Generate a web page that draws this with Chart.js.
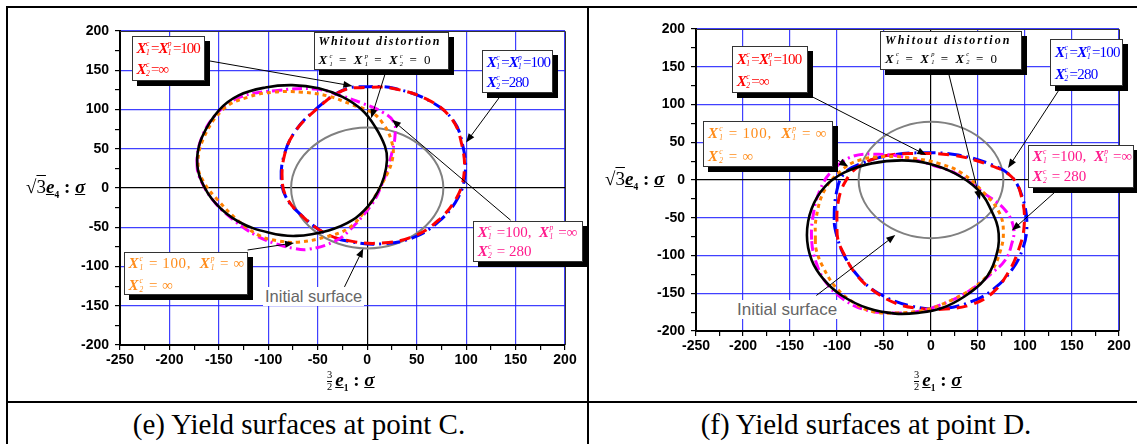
<!DOCTYPE html>
<html>
<head>
<meta charset="utf-8">
<script src="https://cdn.jsdelivr.net/npm/chart.js@4.4.1/dist/chart.umd.min.js"></script>
<style>
  html, body { margin: 0; padding: 0; background: #fff; }
  #page { position: relative; width: 1137px; height: 444px; overflow: hidden; background: #fff; }
  canvas { position: absolute; top: 0; }
  .rule { position: absolute; background: #000; }
  .box { position: absolute; background: #fff; border: 1px solid #333; box-shadow: 5px 5px 0 #000;
         font-family: "Liberation Serif", serif; box-sizing: border-box; }
  .ln { position: absolute; left: 4px; white-space: nowrap; line-height: 1; }
  .X { font-style: italic; font-weight: bold; }
  .ss { display: inline-block; position: relative; width: 0.36em; height: 0.8em; }
  .ss span { position: absolute; left: 0.05em; font-size: 0.5em; font-style: italic; line-height: 1; }
  .ss .sp { top: -0.15em; }
  .ss .sb { top: 1.05em; }
  .lbl { position: absolute; background: #fff; color: #666; font-family: "Liberation Sans", Arial, sans-serif;
         white-space: nowrap; line-height: 1; padding: 1px 2px; }
  .ttl { position: absolute; font-family: "Liberation Serif", serif; white-space: nowrap; line-height: 1; color: #000; }
  .ttl sub { font-size: 0.5em; }
  .frac { display: inline-block; vertical-align: middle; text-align: center; font-size: 0.55em; line-height: 1.05; margin-right: 3px; }
  .frac span { display: block; }
  .frac span:first-child { border-bottom: 1px solid #000; }
  .cap { position: absolute; font-family: "Liberation Serif", serif; font-size: 29px; line-height: 29px;
         white-space: nowrap; transform: translateX(-50%); color: #000; }
</style>
</head>
<body>
<div id="page">
  <canvas id="chartE" width="588" height="400" style="left:0px"></canvas>
  <canvas id="chartF" width="549" height="400" style="left:588px"></canvas>
</div>
<script>
// axis ticks (both panels)
const xTickValues = [-250, -200, -150, -100, -50, 0, 50, 100, 150, 200];
const yTickValues = [-200, -150, -100, -50, 0, 50, 100, 150, 200];

// (e) point C: closed curves, [x, y]
const eInitial = [[77,0],[71,29],[54,54],[29,71],[0,77],[-29,71],[-54,54],[-71,29],[-77,0],[-71,-29],[-54,-54],[-29,-71],[0,-77],[29,-71],[54,-54],[71,-29]];
const eNoDist = [[-172,36],[-167,65],[-150,99],[-130,118],[-103,128],[-76,131],[-49,127],[-25,116],[-5,99],[8,78],[18,53],[20,36],[17,14],[11,-4],[1,-23],[-15,-41],[-39,-54],[-72,-61],[-99,-57],[-130,-43],[-153,-20],[-168,10]];
const eRed = [[-86,10],[-84,40],[-75,68],[-56,95],[-25,124],[0,128],[25,127],[62,112],[86,87],[96,53],[98,19],[91,-11],[72,-41],[46,-62],[15,-70],[-15,-68],[-42,-58],[-69,-32],[-82,-11]];
const eBlue = [[-87,12],[-84,42],[-74,70],[-55,97],[-24,125],[2,129],[27,127],[63,111],[87,86],[97,52],[99,18],[92,-12],[73,-42],[47,-63],[16,-71],[-14,-69],[-41,-59],[-68,-33],[-82,-12]];
const eOrange = [[-171,27],[-166,62],[-145,101],[-120,116],[-95,122],[-66,122],[-39,117],[-15,106],[5,96],[16,82],[24,62],[26,40],[17,10],[-4,-32],[-20,-52],[-41,-62],[-70,-69],[-92,-67],[-110,-60],[-132,-40],[-152,-14],[-164,5]];
const eMagenta = [[-172,27],[-168,62],[-152,95],[-128,116],[-93,124],[-52,126],[-25,117],[-5,108],[15,97],[27,84],[28,65],[25,45],[20,22],[14,2],[5,-20],[-18,-54],[-33,-68],[-59,-78],[-74,-77],[-95,-70],[-113,-60],[-133,-43],[-153,-20],[-166,4]];

// (f) point D
const fInitial = [[77,0],[71,29],[54,54],[29,71],[0,77],[-29,71],[-54,54],[-71,29],[-77,0],[-71,-29],[-54,-54],[-29,-71],[0,-77],[29,-71],[54,-54],[71,-29]];
const fNoDist = [[-132,-73],[-127,-38],[-113,-9],[-92,10],[-63,22],[-31,26],[-3,22],[25,9],[50,-13],[64,-40],[72,-71],[68,-106],[57,-132],[36,-154],[11,-170],[-14,-176],[-38,-177],[-67,-170],[-95,-153],[-114,-132],[-127,-106]];
const fRed = [[-99,-79],[-100,-62],[-99,-31],[-92,-4],[-77,18],[-49,32],[-14,35],[22,33],[57,22],[86,4],[97,-26],[99,-62],[93,-93],[82,-123],[65,-150],[43,-165],[15,-171],[-14,-170],[-38,-163],[-63,-145],[-81,-123],[-93,-97]];
const fBlue = [[-103,-53],[-100,-13],[-92,9],[-74,22],[-42,33],[-6,36],[29,33],[65,20],[86,4],[98,-26],[102,-62],[97,-93],[86,-119],[68,-143],[47,-159],[15,-170],[-21,-167],[-56,-150],[-77,-128],[-92,-101],[-100,-75]];
const fOrange = [[-123,-79],[-122,-49],[-113,-13],[-95,13],[-77,26],[-49,31],[-21,29],[8,22],[33,9],[57,-18],[73,-44],[77,-71],[73,-97],[65,-119],[47,-141],[22,-159],[-6,-172],[-35,-176],[-63,-174],[-84,-161],[-102,-141],[-115,-115],[-122,-93]];
const fMagenta = [[-127,-79],[-125,-44],[-118,-13],[-106,11],[-84,31],[-56,34],[-28,30],[1,20],[29,7],[57,-18],[79,-40],[88,-64],[86,-84],[79,-106],[65,-123],[43,-145],[15,-163],[-14,-174],[-42,-176],[-70,-172],[-92,-159],[-111,-137],[-122,-110]];

// arrows [tail, head] in data units
const eArrows = [[[-160,162],[-15,130]], [[18,145],[4,89]], [[134,116],[100,58]], [[145,-41],[25,87]], [[-121,-79],[-74,-70]], [[-23,-126],[-4,-77]]];
const fArrows = [[[-126,110],[-5,33]], [[-99,26],[-88,18]], [[19,140],[52,-26]], [[136,119],[82,16]], [[131,-17],[86,-67]], [[-122,-153],[-38,-73]]];

const styleOf = {
  noDist:  { color: "#000000", width: 2.6, dash: [] },
  orange:  { color: "#ff8000", width: 3, dash: [4, 4] },
  magenta: { color: "#ff00ff", width: 3, dash: [10, 4, 2, 4] },
  red:     { color: "#ff0000", width: 3, dash: [11, 7] },
  blue:    { color: "#0000ff", width: 3, dash: [14, 5, 2, 5] },
  initial: { color: "#808080", width: 2, dash: [] },
};

const withMinor = (vals) => {
  const out = [];
  vals.forEach((v, i) => { out.push(v); if (i < vals.length - 1) out.push((v + vals[i + 1]) / 2); });
  return out;
};

const gridColor = (ctx) => {
  const v = ctx.tick ? ctx.tick.value : null;
  if (v === 0) return "#000";
  return Math.abs(v % 50) < 1e-6 ? "rgba(30,30,255,0.85)" : "rgba(0,0,0,0)";
};

// close each curve on itself so the spline runs smoothly through the joint
const loopPlugin = {
  id: "loop",
  beforeDatasetsDraw(chart) {
    chart.getSortedVisibleDatasetMetas().forEach((m) => {
      const line = m.dataset;
      if (!line) return;
      line._loop = true;
      line._fullLoop = true;
      line._pointsUpdated = false;
      delete line._path;
      delete line._segments;
    });
  },
};

const framePlugin = {
  id: "frame",
  afterDraw(chart) {
    const { ctx, chartArea: a } = chart;
    ctx.save();
    ctx.strokeStyle = "#333";
    ctx.lineWidth = 1;
    ctx.beginPath();
    ctx.moveTo(a.left, a.top + 0.5); ctx.lineTo(a.right + 0.5, a.top + 0.5); ctx.lineTo(a.right + 0.5, a.bottom);
    ctx.stroke();
    ctx.restore();
  },
};

const arrowPlugin = (arrows) => ({
  id: "arrows",
  afterDatasetsDraw(chart) {
    const { ctx, scales: { x, y } } = chart;
    ctx.save();
    ctx.strokeStyle = "#000"; ctx.fillStyle = "#000"; ctx.lineWidth = 1;
    arrows.forEach(([t, h]) => {
      const x0 = x.getPixelForValue(t[0]), y0 = y.getPixelForValue(t[1]);
      const x1 = x.getPixelForValue(h[0]), y1 = y.getPixelForValue(h[1]);
      const ang = Math.atan2(y1 - y0, x1 - x0);
      ctx.beginPath(); ctx.moveTo(x0, y0); ctx.lineTo(x1 - 6 * Math.cos(ang), y1 - 6 * Math.sin(ang)); ctx.stroke();
      ctx.beginPath();
      ctx.moveTo(x1, y1);
      ctx.lineTo(x1 - 9 * Math.cos(ang) + 3.5 * Math.sin(ang), y1 - 9 * Math.sin(ang) - 3.5 * Math.cos(ang));
      ctx.lineTo(x1 - 9 * Math.cos(ang) - 3.5 * Math.sin(ang), y1 - 9 * Math.sin(ang) + 3.5 * Math.cos(ang));
      ctx.closePath(); ctx.fill();
    });
    ctx.restore();
  },
});

function makeChart(id, series, arrows, geom) {
  const tickFont = { family: "'Liberation Sans', Arial, sans-serif", size: 14, weight: "bold" };
  return new Chart(document.getElementById(id), {
    type: "line",
    data: {
      datasets: series.map(([pts, key]) => ({
        data: pts.map(([x, y]) => ({ x, y })),
        borderColor: styleOf[key].color,
        borderWidth: styleOf[key].width,
        borderDash: styleOf[key].dash,
        pointRadius: 0,
        tension: 0.4,
        spanGaps: true,
        fill: false,
      })),
    },
    options: {
      responsive: false,
      animation: false,
      events: [],
      layout: { padding: { top: geom.top, right: geom.right, left: 0, bottom: 0 } },
      plugins: { legend: { display: false }, tooltip: { enabled: false } },
      scales: {
        x: {
          type: "linear", min: -250, max: 200,
          afterBuildTicks: (s) => { s.ticks = withMinor(xTickValues).map((v) => ({ value: v })); },
          afterFit: (s) => { s.height = geom.xh; },
          ticks: { autoSkip: false, maxRotation: 0, color: "#000", font: tickFont, padding: 2,
                   callback: (v) => (xTickValues.includes(v) ? v : "") },
          grid: { color: gridColor, lineWidth: 1.2, tickColor: "#000", tickLength: 5 },
          border: { color: "#000", width: 2 },
        },
        y: {
          type: "linear", min: -200, max: 200,
          afterBuildTicks: (s) => { s.ticks = withMinor(yTickValues).map((v) => ({ value: v })); },
          afterFit: (s) => { s.width = geom.yw; },
          ticks: { autoSkip: false, color: "#000", font: tickFont, padding: 6,
                   callback: (v) => (yTickValues.includes(v) ? v : "") },
          grid: { color: gridColor, lineWidth: 1.2, tickColor: "#000", tickLength: 5 },
          border: { color: "#000", width: 2 },
        },
      },
    },
    plugins: [loopPlugin, framePlugin, arrowPlugin(arrows)],
  });
}

makeChart("chartE",
  [[eNoDist, "noDist"], [eOrange, "orange"], [eMagenta, "magenta"], [eRed, "red"], [eBlue, "blue"], [eInitial, "initial"]],
  eArrows, { top: 31, right: 23, yw: 120, xh: 55 });
makeChart("chartF",
  [[fNoDist, "noDist"], [fOrange, "orange"], [fMagenta, "magenta"], [fRed, "red"], [fBlue, "blue"], [fInitial, "initial"]],
  fArrows, { top: 29, right: 18, yw: 108, xh: 69 });

// ---- overlays: table rules, boxes, titles, captions ----
const page = document.getElementById("page");
const add = (html) => page.insertAdjacentHTML("beforeend", html);

[[6, 6, 1131, 2], [6, 6, 2, 438], [587, 6, 2, 438], [6, 401, 1131, 2]].forEach(([l, t, w, h]) =>
  add(`<div class="rule" style="left:${l}px;top:${t}px;width:${w}px;height:${h}px"></div>`));

const X = (sup, sub) => `<span class="X">X</span><span class="ss"><span class="sp">${sup}</span><span class="sb">${sub}</span></span>`;

const txtRed1 = `${X("c", "1")}=${X("p", "1")}=100`;
const txtRed2 = `${X("c", "2")}=∞`;
const txtBlue2 = `${X("c", "2")}=280`;
const txtOr1 = `${X("c", "1")} = 100,&nbsp; ${X("p", "1")} = ∞`;
const txtOr2 = `${X("c", "2")} = ∞`;
const txtMg1 = `${X("c", "1")} =100,&nbsp; ${X("p", "1")} =∞`;
const txtMg2 = `${X("c", "2")} = 280`;
const txtNo1 = `<b><i>Whitout distortion</i></b>`;
const txtNo2 = `${X("c", "1")} = ${X("p", "1")} = ${X("c", "2")} = 0`;

const boxes = [
  // [left, top, w, h, color, fontSize, spacing, line1, line2, top1, top2]
  [131.6, 36, 73, 45, "#ff0000", 15, -1, txtRed1, txtRed2, 4, 25],
  [313.5, 32.3, 135.5, 38, "#000", 12, 1.8, txtNo1, null, 2, 20],
  [481.8, 50, 71, 43, "#0000ff", 15, -1, txtRed1, txtBlue2, 4, 24],
  [472.7, 221, 110, 41, "#ff1a8c", 15, 0, txtMg1, txtMg2, 3, 22],
  [123.6, 251.7, 124, 43, "#ff8c1a", 15, 0.6, txtOr1, txtOr2, 3, 25],
  [731.7, 45.7, 76, 47.6, "#ff0000", 15, -0.8, txtRed1, txtRed2, 5, 27],
  [703, 120.7, 130, 46.6, "#ff8c1a", 15, 0.8, txtOr1, txtOr2, 4, 27],
  [880, 30.7, 142, 39.3, "#000", 12, 2, txtNo1, null, 2.5, 20],
  [1050, 39, 73, 46.7, "#0000ff", 15, -0.8, txtRed1, txtBlue2, 5, 27],
  [1027.5, 145.3, 106.5, 43, "#ff1a8c", 15, 0, txtMg1, txtMg2, 3, 23],
];
boxes.forEach(([l, t, w, h, c, fs, sp, a, b, t1, t2]) => {
  const second = b === null
    ? `<div class="ln" style="top:${t2}px;font-size:13px;letter-spacing:2px">${txtNo2}</div>`
    : `<div class="ln" style="top:${t2}px">${b}</div>`;
  add(`<div class="box" style="left:${l}px;top:${t}px;width:${w}px;height:${h}px;color:${c};font-size:${fs}px;letter-spacing:${sp}px">
         <div class="ln" style="top:${t1}px">${a}</div>${second}</div>`);
});

// "Initial surface" labels
add(`<div class="lbl" style="left:263px;top:287px;font-size:16.5px">Initial surface</div>`);
add(`<div class="lbl" style="left:735px;top:300px;font-size:17px">Initial surface</div>`);

// axis titles
const yTitle = `√<span style="text-decoration:overline">3</span><b><i><u>e</u></i><sub>4</sub></b><b> : </b><b><i><u>σ</u></i></b>`;
const xTitle = `<span class="frac"><span>3</span><span>2</span></span><b><i><u>e</u></i><sub>1</sub></b><b> : </b><b><i><u>σ</u></i></b>`;
add(`<div class="ttl" style="left:26px;top:177px;font-size:19px">${yTitle}</div>`);
add(`<div class="ttl" style="left:605px;top:169px;font-size:19px">${yTitle}</div>`);
add(`<div class="ttl" style="left:327px;top:370px;font-size:19px">${xTitle}</div>`);
add(`<div class="ttl" style="left:914px;top:370px;font-size:19px">${xTitle}</div>`);

// captions
add(`<div class="cap" style="left:299px;top:410px">(e) Yield surfaces at point C.</div>`);
add(`<div class="cap" style="left:866px;top:410px">(f) Yield surfaces at point D.</div>`);
</script>
</body>
</html>
